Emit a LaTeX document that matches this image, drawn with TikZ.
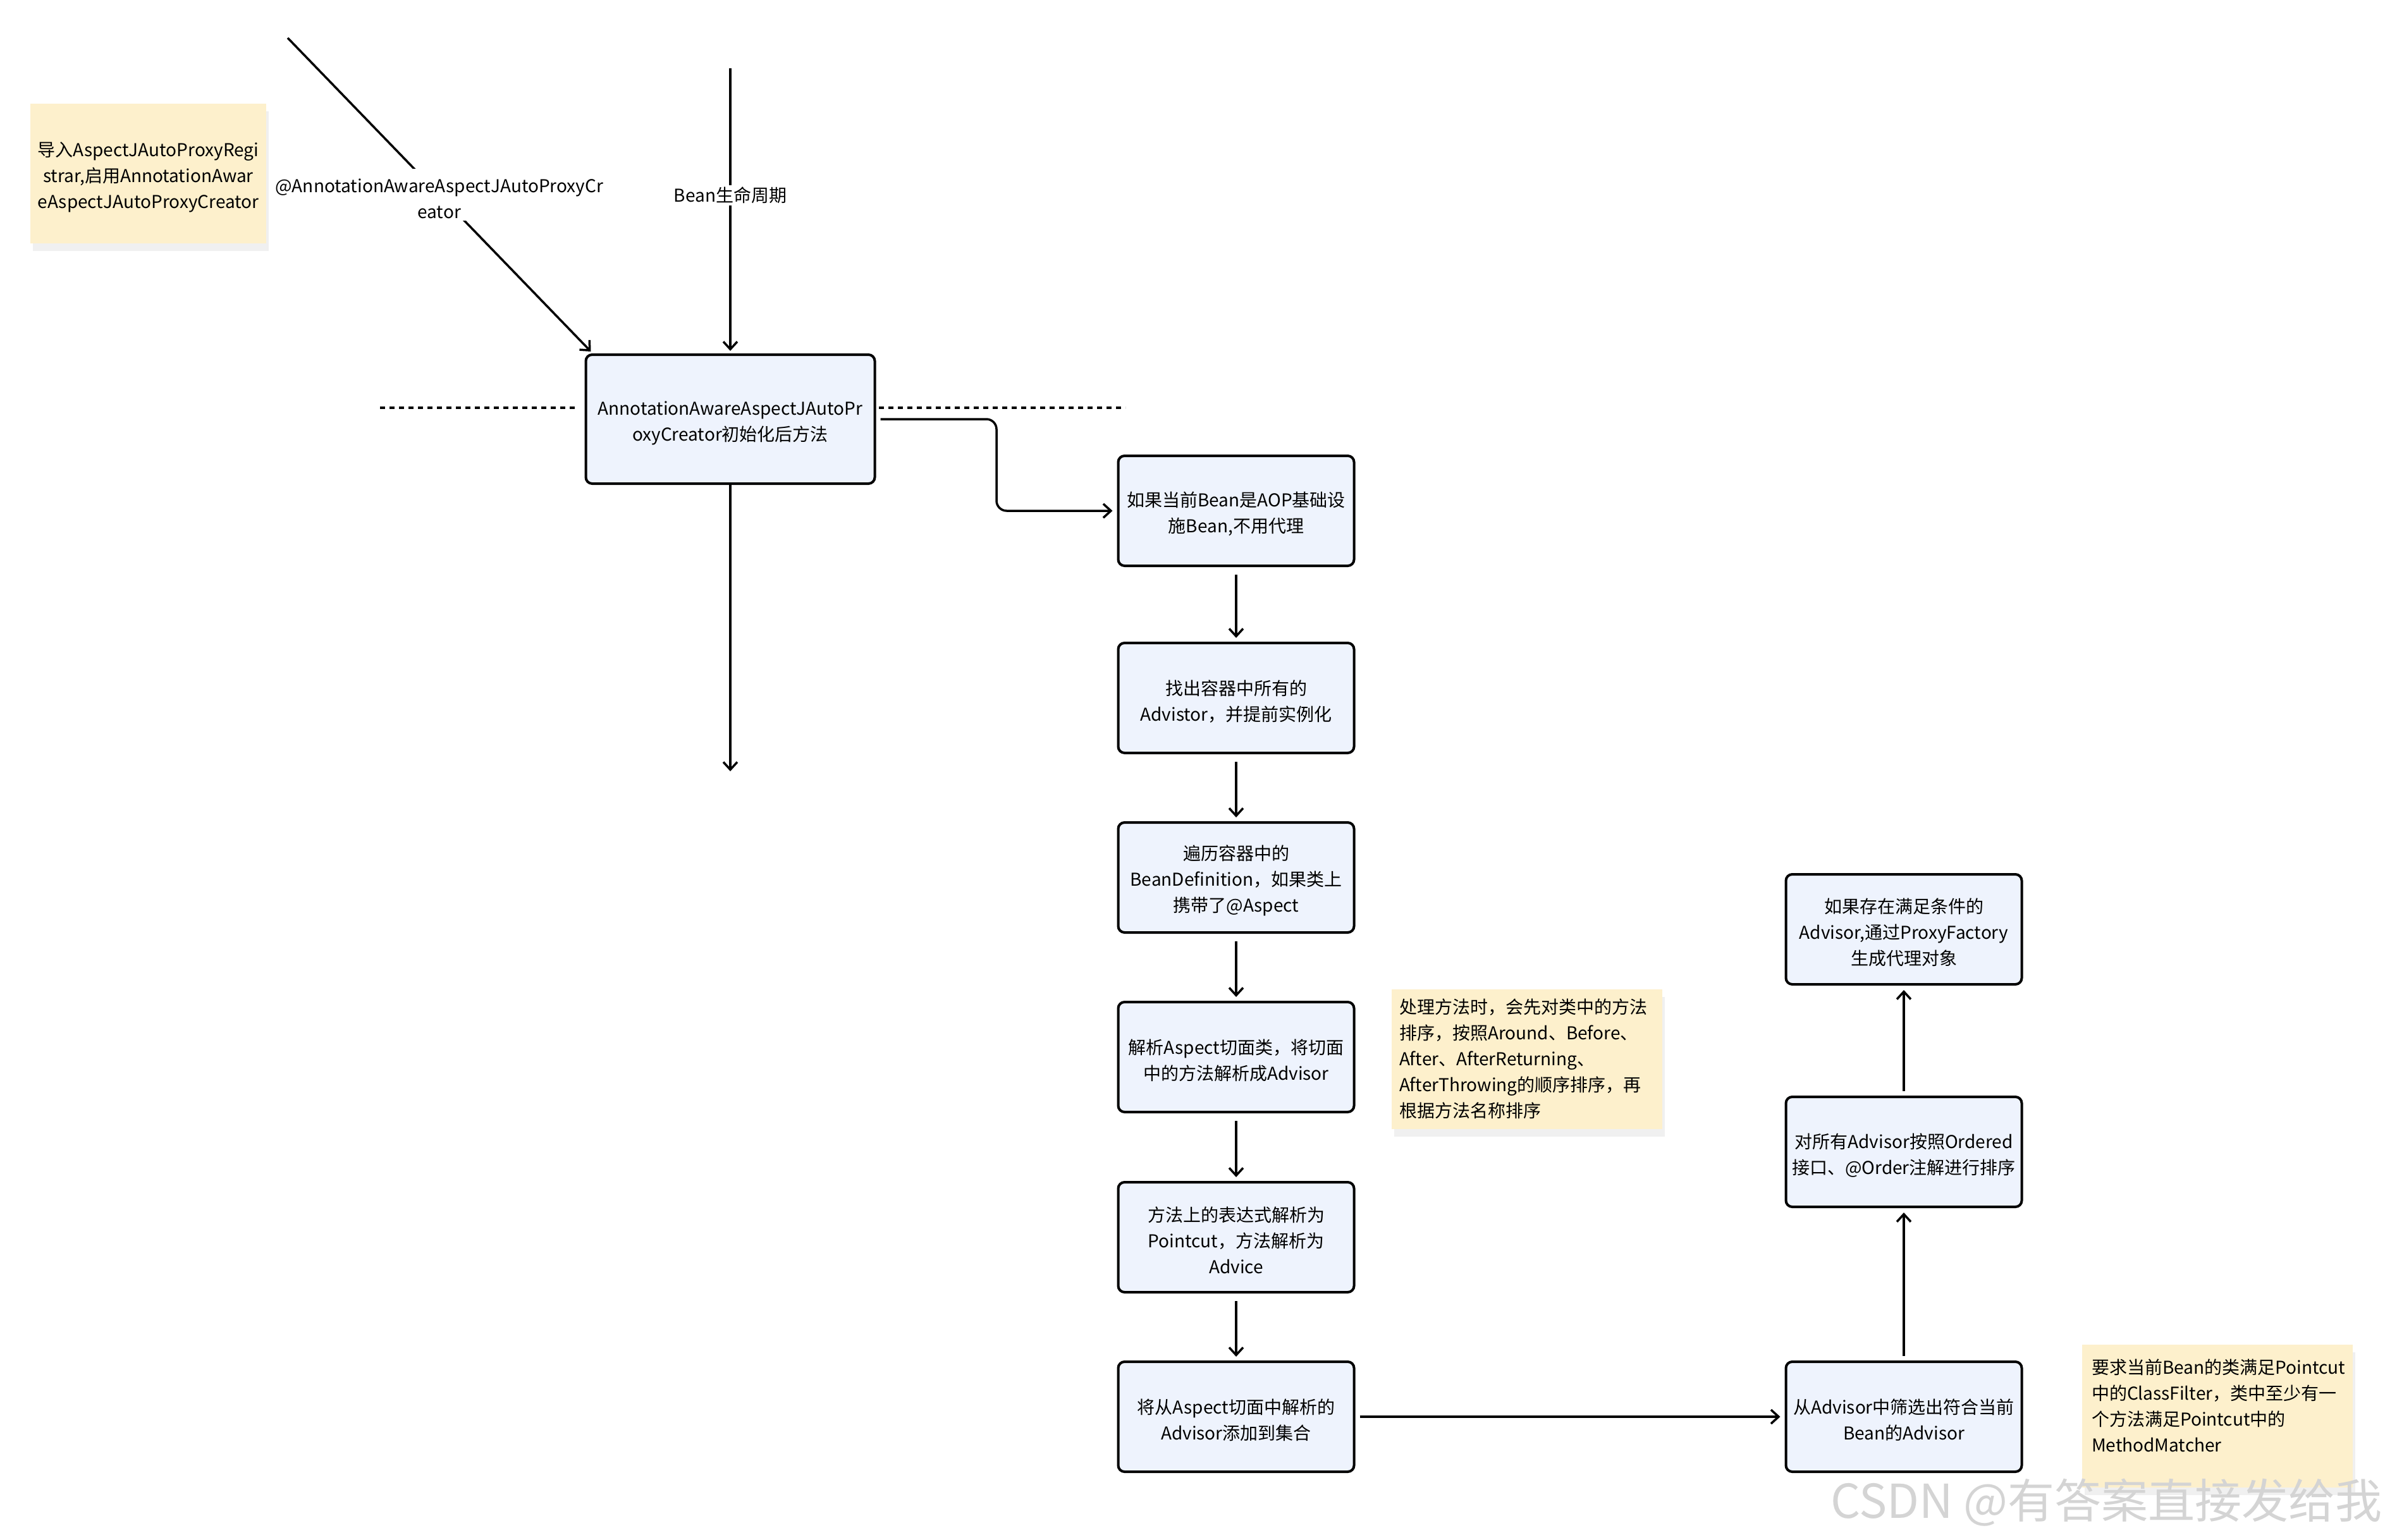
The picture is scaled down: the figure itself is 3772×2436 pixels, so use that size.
\documentclass[tikz,border=0pt]{standalone}
\usepackage{fontspec}
\setmainfont{Noto Sans CJK SC}
\usetikzlibrary{arrows.meta,shadows,calc}
\definecolor{boxfill}{HTML}{EEF3FD}
\definecolor{notefill}{HTML}{FDF0CC}
\definecolor{wmcol}{HTML}{D4D4D4}
\newcommand{\fsz}{\fontsize{28}{41}\selectfont}
\newcommand{\lowr}{\rule{0pt}{34pt}}
\begin{document}
\begin{tikzpicture}[x=1pt,y=-1pt,
 box/.style={draw=black, line width=4pt, rounded corners=10pt, fill=boxfill, minimum width=373pt, minimum height=174pt, align=center, inner sep=0pt, font=\fsz},
 note/.style={fill=notefill, drop shadow={shadow xshift=4pt, shadow yshift=-12pt, opacity=0.12}, inner sep=0pt, font=\fsz},
 conn/.style={line width=3.5pt, -{Straight Barb[length=12pt,width=22pt,line width=3.5pt]}},
 dots/.style={line width=4pt, dash pattern=on 8pt off 7pt},
 lbl/.style={fill=white, align=center, font=\fsz, inner sep=3pt}]
\useasboundingbox (0,0) rectangle (3772,2436);

% notes
\node[note, minimum width=373pt, minimum height=221pt, align=center] (n1) at (234.5,274.5) {\lowr 导入AspectJAutoProxyRegi\\strar,启用AnnotationAwar\\eAspectJAutoProxyCreator};
\node[note, minimum width=428pt, minimum height=221pt, text width=404pt, align=left] (n2) at (2415,1675) {处理方法时，会先对类中的方法\\排序，按照Around、Before、\\After、AfterReturning、\\AfterThrowing的顺序排序，再\\根据方法名称排序};
\node[note, minimum width=428pt, minimum height=226pt] (n3) at (3507,2240) {};
\node[anchor=north west, text width=410pt, align=left, font=\fsz, inner sep=0pt] (t3) at ([xshift=15pt,yshift=-23pt]n3.north west) {要求当前Bean的类满足Pointcut\\中的ClassFilter，类中至少有一\\个方法满足Pointcut中的\\MethodMatcher};

% main box
\node[box, minimum width=457pt, minimum height=204pt] (main) at (1155,663) {\lowr AnnotationAwareAspectJAutoPr\\oxyCreator初始化后方法};

% left column
\node[box] (b2) at (1955,808) {\lowr 如果当前Bean是AOP基础设\\施Bean,不用代理};
\node[box] (b3) at (1955,1104) {\lowr 找出容器中所有的\\Advistor，并提前实例化};
\node[box] (b4) at (1955,1388) {\lowr 遍历容器中的\\BeanDefinition，如果类上\\携带了@Aspect};
\node[box] (b5) at (1955,1672) {\lowr 解析Aspect切面类，将切面\\中的方法解析成Advisor};
\node[box] (b6) at (1955,1957) {\lowr 方法上的表达式解析为\\Pointcut，方法解析为\\Advice};
\node[box] (b7) at (1955,2241) {\lowr 将从Aspect切面中解析的\\Advisor添加到集合};

% right column
\node[box] (r1) at (3011,1470) {\lowr 如果存在满足条件的\\Advisor,通过ProxyFactory\\生成代理对象};
\node[box] (r2) at (3011,1822) {\lowr 对所有Advisor按照Ordered\\接口、@Order注解进行排序};
\node[box] (r3) at (3011,2241) {\lowr 从Advisor中筛选出符合当前\\Bean的Advisor};

% free coordinates
\coordinate (s1) at (455,60);
\coordinate (s2) at (1155,108);
\coordinate (e1) at (1155,1220);
\coordinate (dl1) at (601,645);
\coordinate (dl2) at (914,645);
\coordinate (dr1) at (1390,645);
\coordinate (dr2) at (1780,645);

% dotted lines
\draw[dots] (dl1) -- (dl2);
\draw[dots] (dr1) -- (dr2);

% incoming arrows
\draw[conn] (s1) -- ([xshift=10pt,yshift=3pt]main.north west) node[lbl, pos=0.5] {\lowr @AnnotationAwareAspectJAutoProxyCr\\eator};
\draw[conn] (s2) -- ([yshift=4pt]main.north) node[lbl, pos=0.45] {Bean生命周期};
\draw[conn] (main.south) -- (e1);

% main -> b2
\coordinate (mid) at ($(main.east)!0.5!(b2.west)$);
\draw[conn, rounded corners=16pt] ([xshift=7pt]main.east) -- (mid |- main.east) -- (mid |- b2.west) -- ([xshift=-7pt]b2.west);

% column chain
\draw[conn] ([yshift=-12pt]b2.south) -- ([yshift=6pt]b3.north);
\draw[conn] ([yshift=-12pt]b3.south) -- ([yshift=6pt]b4.north);
\draw[conn] ([yshift=-12pt]b4.south) -- ([yshift=6pt]b5.north);
\draw[conn] ([yshift=-12pt]b5.south) -- ([yshift=6pt]b6.north);
\draw[conn] ([yshift=-12pt]b6.south) -- ([yshift=6pt]b7.north);

% to right column
\draw[conn] ([xshift=7pt]b7.east) -- ([xshift=-7pt]r3.west);
\draw[conn] ([yshift=7pt]r3.north) -- ([yshift=-7pt]r2.south);
\draw[conn] ([yshift=7pt]r2.north) -- ([yshift=-7pt]r1.south);

% watermark
\node[anchor=east, text=wmcol, font=\fontsize{74}{80}\selectfont, inner sep=0pt] (wm) at (3768,2377) {CSDN @有答案直接发给我};
\end{tikzpicture}
\end{document}
